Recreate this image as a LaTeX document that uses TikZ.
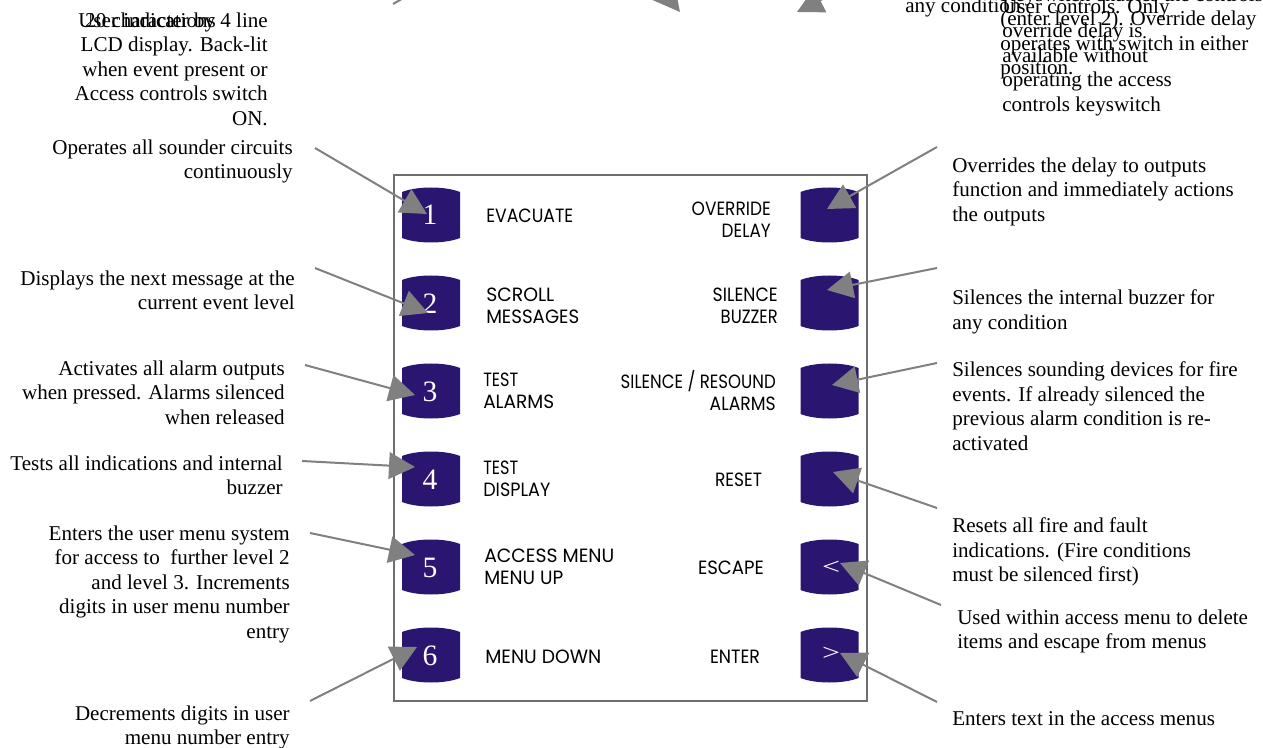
\documentclass[tikz,border=0pt]{standalone}
\usepackage{fontspec}
\usepackage{graphicx}
\setmainfont{Liberation Serif}
\newfontfamily\labfont{Poppins}
\usetikzlibrary{arrows.meta}
\definecolor{btn}{RGB}{42,22,112}
\definecolor{arrgray}{RGB}{128,128,128}
\definecolor{boxgray}{RGB}{110,110,110}
\newcommand\lab[2]{\resizebox{#1}{\height}{\labfont\fontsize{14.4}{16.5}\selectfont #2}}
\tikzset{
  keybtn/.pic={\fill[btn] (-29,-23) .. controls (-14,-29) and (14,-29) .. (29,-23) -- (29,23) .. controls (14,29) and (-14,29) .. (-29,23) -- cycle;}
}
\begin{document}
\begin{tikzpicture}[x=0.75pt,y=-0.75pt,
  desc/.style={inner sep=0pt, font=\fontsize{15.8}{18.4}\selectfont},
  descl/.style={desc, anchor=north west, align=left},
  descr/.style={desc, anchor=north east, align=right},
  keylab/.style={inner sep=0pt, font=\fontsize{12}{16.5}\selectfont},
  digit/.style={inner sep=0pt, text=white, font=\fontsize{22.2}{24}\selectfont},
  arr/.style={draw=arrgray, line width=1.5pt, -{Triangle[length=19.5pt,width=20pt]}},
  ]
\useasboundingbox (0,0) rectangle (1263,748);
\clip (0,0) rectangle (1263,748);

% panel
\draw[boxgray, line width=1pt] (394,175) rectangle (867,701);

% keys
\foreach \i/\y in {1/215,2/303,3/391,4/479,5/567,6/655}{
  \pic at (431,\y) {keybtn};
  \pic at (829.5,\y) {keybtn};
}
\node[digit] (d1) at (430,215) {1};
\node[digit] (d2) at (430,304) {2};
\node[digit] (d3) at (430,392) {3};
\node[digit] (d4) at (430,480) {4};
\node[digit] (d5) at (430,568) {5};
\node[digit] (d6) at (430,656) {6};
\node[inner sep=0pt, text=white] (esc) at (831,568) {\resizebox{13.5pt}{10pt}{<}};
\node[inner sep=0pt, text=white] (ent) at (831,654) {\resizebox{13.5pt}{10pt}{>}};

% key labels
\node[keylab, anchor=west] (k1) at (486,216) {\lab{65.25pt}{EVACUATE}};
\node[keylab, anchor=west, align=left] (k2) at (486,306) {\lab{51pt}{SCROLL}\\\lab{69.75pt}{MESSAGES}};
\node[keylab, anchor=west, align=left] (k3) at (483,391) {\lab{26.25pt}{TEST}\\\lab{53.25pt}{ALARMS}};
\node[keylab, anchor=west, align=left] (k4) at (483,479) {\lab{26.25pt}{TEST}\\\lab{50.25pt}{DISPLAY}};
\node[keylab, anchor=west, align=left] (k5) at (484,567) {\lab{97.5pt}{ACCESS MENU}\\\lab{59.25pt}{MENU UP}};
\node[keylab, anchor=west] (k6) at (485,657) {\lab{87pt}{MENU DOWN}};
\node[keylab, anchor=east, align=right] (r1) at (771,220) {\lab{59.25pt}{OVERRIDE}\\\lab{36.75pt}{DELAY}};
\node[keylab, anchor=east, align=right] (r2) at (778,306) {\lab{48.75pt}{SILENCE}\\\lab{42.75pt}{BUZZER}};
\node[keylab, anchor=east, align=right] (r3) at (776,391) {\lab{116.25pt}{SILENCE / RESOUND}\hspace{2.25pt}\\\lab{49.5pt}{ALARMS}};
\node[keylab] (r4) at (738.5,480) {\lab{35.25pt}{RESET}};
\node[keylab] (r5) at (731,568) {\lab{49.5pt}{ESCAPE}};
\node[keylab] (r6) at (735,657) {\lab{37.5pt}{ENTER}};

% descriptions left
\node[descl] (t0) at (78,12.4) {User indications};
\node[descr] (t0b) at (268,12.4) {20 character by 4 line\\LCD display. Back-lit~\\when event present or\\Access controls switch\\ON.};
\node[descr] (t1) at (293,139.4) {Operates all sounder circuits\\continuously};
\node[descr] (t2) at (295,270.4) {Displays the next message at the\\current event level};
\node[descr] (t3) at (285,360.4) {Activates all alarm outputs\\when pressed. Alarms silenced\\when released};
\node[descr] (t4) at (283,455.4) {Tests all indications and internal\\buzzer};
\node[descr] (t5) at (290,525.4) {Enters the user menu system\\for access to ~further level 2\\and level 3. Increments\\digits in user menu number\\entry};
\node[descr] (t6) at (290,705.4) {Decrements digits in user\\menu number entry};

% descriptions right
\node[descl] (s1) at (952,157.4) {Overrides the delay to outputs\\function and immediately actions\\the outputs};
\node[descl] (s2) at (952,289.4) {Silences the internal buzzer for\\any condition};
\node[descl] (s3) at (952,361.4) {Silences sounding devices for fire\\events. If already silenced the\\previous alarm condition is re-\\activated};
\node[descl] (s4) at (952,517.4) {Resets all fire and fault\\indications. (Fire conditions\\must be silenced first)};
\node[descl] (s5) at (957,609.4) {Used within access menu to delete\\items and escape from menus};
\node[descl] (s6) at (952,710.4) {Enters text in the access menus};

% top (clipped) texts
\node[descl] (u0) at (905,-2.6) {any condition};
\node[descl] (ua) at (1002,-1.6) {User controls. Only\\override delay is\\available without\\operating the access\\controls keyswitch};
\node[descl] (ub) at (1000,-13.5) {Keyswitch enables the controls\\(enter level 2). Override delay\\operates with switch in either\\position.};

% connector coordinates
\coordinate (a1) at (315,148); \coordinate (p1) at (427,214);
\coordinate (a2) at (315,268); \coordinate (p2) at (428,313);
\coordinate (a3) at (305,365); \coordinate (p3) at (415,395);
\coordinate (a4) at (302,461); \coordinate (p4) at (415,467);
\coordinate (a5) at (310,533); \coordinate (p5) at (415,555);
\coordinate (a6) at (310,701); \coordinate (p6) at (417,647);
\coordinate (b1) at (937,147); \coordinate (q1) at (827,209);
\coordinate (b2) at (937,268); \coordinate (q2) at (827,290);
\coordinate (b3) at (937,363); \coordinate (q3) at (832,385);
\coordinate (b4) at (937,508); \coordinate (q4) at (833,472);
\coordinate (b5) at (941,605); \coordinate (q5) at (840,563);
\coordinate (b6) at (937,702); \coordinate (q6) at (840,653);
\coordinate (c1) at (393,4);   \coordinate (w1) at (470,-40);
\coordinate (c2) at (630,-50); \coordinate (w2) at (680,12);
\coordinate (c3) at (870,-25); \coordinate (w3) at (797,12);

\foreach \s/\e in {a1/p1,a2/p2,a3/p3,a4/p4,a5/p5,a6/p6,b1/q1,b2/q2,b3/q3,b4/q4,b5/q5,b6/q6,c1/w1,c2/w2,c3/w3}
  \draw[arr] (\s) -- (\e);
\end{tikzpicture}
\end{document}
